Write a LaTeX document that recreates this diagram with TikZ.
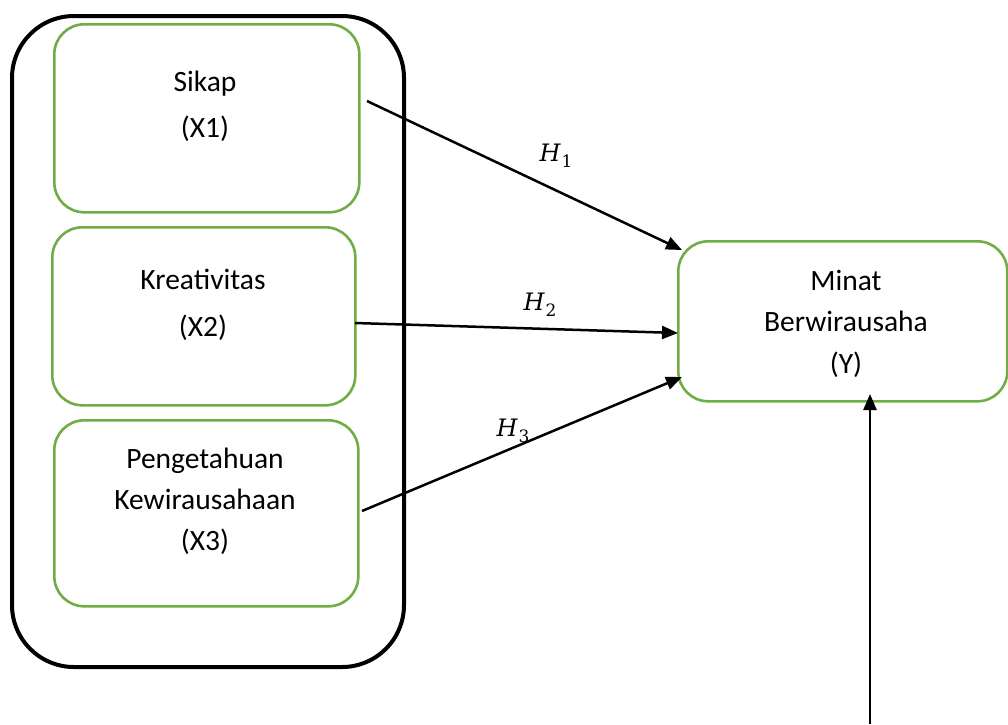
\documentclass[tikz,border=0pt]{standalone}
\usepackage{graphicx}
\usepackage{fontspec}
\setmainfont{Carlito}
\newfontfamily\hfont{DejaVu Serif}
\usetikzlibrary{arrows.meta}
\definecolor{boxgreen}{RGB}{112,173,71}
\newcommand{\hypo}[1]{{\hfont\fontsize{24}{24}\selectfont\itshape H\kern1pt\raisebox{-6pt}{\fontsize{17}{17}\selectfont\upshape #1}}}
\begin{document}
\begin{tikzpicture}[x=1pt,y=-1pt,
  outerbox/.style={draw=black,line width=4pt,rounded corners=62pt},
  gbox/.style={draw=boxgreen,line width=2.6pt,rounded corners=30pt},
  txt/.style={font=\fontsize{29.5}{44}\selectfont,inner sep=0pt,anchor=base},
  hyp/.style={inner sep=0pt},
  conn/.style={line width=2.5pt,-{Triangle[length=16pt,width=13pt]}}]
\useasboundingbox (0,0) rectangle (1008,724);
\draw[outerbox] (12,16) rectangle (404,667);
\node[gbox,minimum width=305pt,minimum height=188pt,anchor=north west] (x1) at (53,23) {};
\node[gbox,minimum width=303pt,minimum height=178pt,anchor=north west] (x2) at (51,226) {};
\node[gbox,minimum width=304pt,minimum height=186pt,anchor=north west] (x3) at (53,419) {};
\node[gbox,minimum width=329pt,minimum height=160pt,anchor=north west] (y) at (677,240) {};
\node[txt] (t1a) at (205,91) {Sikap};
\node[txt] (t1b) at (205,137) {(X1)};
\node[txt] (t2a) at (203,289) {Kreativitas};
\node[txt] (t2b) at (203,336) {(X2)};
\node[txt] (t3a) at (205,468) {Pengetahuan};
\node[txt] (t3b) at (205,509) {Kewirausahaan};
\node[txt] (t3c) at (205,550) {(X3)};
\node[txt] (tya) at (846,290) {Minat};
\node[txt] (tyb) at (846,331) {Berwirausaha};
\node[txt] (tyc) at (846,373) {(Y)};
\coordinate (s1) at (367,101);
\coordinate (e1) at (682,250);
\coordinate (s2) at (355,323);
\coordinate (e2) at (678,333);
\coordinate (s3) at (362,511);
\coordinate (e3) at (682,377);
\coordinate (s4) at (870,724);
\coordinate (e4) at (870,394);
\draw[conn] (s1) -- (e1);
\draw[conn] (s2) -- (e2);
\draw[conn] (s3) -- (e3);
\draw[conn] (s4) -- (e4);
\node[hyp] (h1) at (556,156) {\hypo{1}};
\node[hyp] (h2) at (540,305) {\hypo{2}};
\node[hyp] (h3) at (513,431) {\hypo{3}};
\end{tikzpicture}
\end{document}
